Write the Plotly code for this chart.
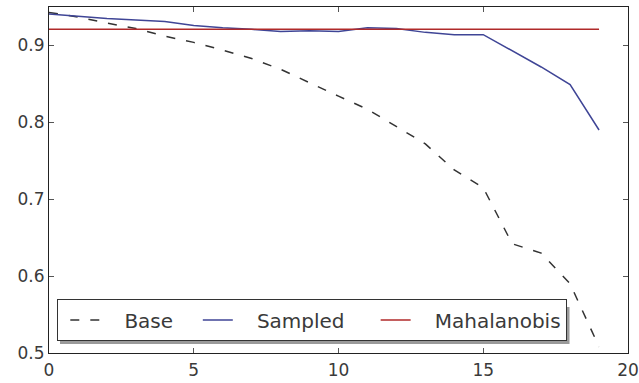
import plotly.graph_objects as go

x_vals = list(range(20))
base = [0.943, 0.937, 0.929, 0.922, 0.912, 0.904, 0.894, 0.883, 0.869, 0.851,
        0.834, 0.817, 0.795, 0.772, 0.738, 0.715, 0.642, 0.630, 0.590, 0.508]
sampled = [0.941, 0.938, 0.935, 0.933, 0.931, 0.926, 0.923, 0.921, 0.918, 0.919,
           0.918, 0.923, 0.922, 0.917, 0.914, 0.914, 0.893, 0.872, 0.849, 0.790]
mahalanobis = [0.921] * 20
series_names = ["Base", "Sampled", "Mahalanobis"]

FONT = "DejaVu Sans"
TXT = "#3a3a3a"

fig = go.Figure()
fig.add_trace(go.Scatter(x=x_vals, y=base, mode="lines", name="   " + series_names[0] + "  ",
                         line=dict(color="#333333", width=1.5, dash="9px,11px")))
fig.add_trace(go.Scatter(x=x_vals, y=sampled, mode="lines", name="   " + series_names[1] + "   ",
                         line=dict(color="#3f4596", width=1.5)))
fig.add_trace(go.Scatter(x=x_vals, y=mahalanobis, mode="lines", name="   " + series_names[2],
                         line=dict(color="#b02a2a", width=1.5)))

axis_common = dict(showline=True, linecolor="#222222", linewidth=1.2, mirror="allticks",
                   ticks="inside", ticklen=5, tickcolor="#555555", tickwidth=1,
                   showgrid=False, zeroline=False, automargin=False,
                   tickfont=dict(family=FONT, size=17, color=TXT))

# legend shadow (paper coords)
fig.add_shape(type="rect", xref="paper", yref="paper", x0=0.019, x1=0.899, y0=0.026, y1=0.133,
              fillcolor="#9a9a9a", line=dict(width=0), layer="above")

fig.update_layout(
    width=639, height=383,
    margin=dict(l=49, r=11, t=7, b=30),
    paper_bgcolor="white", plot_bgcolor="white",
    showlegend=True,
    legend=dict(orientation="h", x=0.014, y=0.034, xanchor="left", yanchor="bottom",
                bgcolor="white", bordercolor="#333333", borderwidth=1.2,
                font=dict(family=FONT, size=20, color=TXT),
                indentation=7, tracegroupgap=0),
    xaxis=dict(range=[0, 20], dtick=5, tick0=0, ticklabelstandoff=1, **axis_common),
    yaxis=dict(range=[0.5, 0.95], dtick=0.1, tick0=0.5, tickformat=".1f", **axis_common),
)

fig.write_html("out.html")
